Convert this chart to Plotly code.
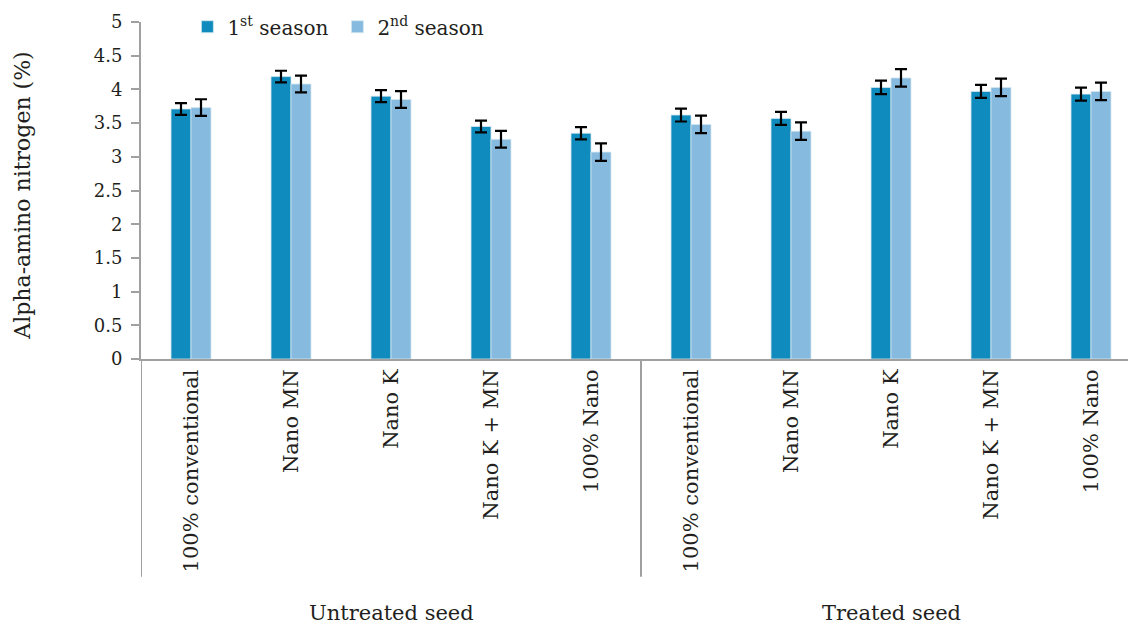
import plotly.graph_objects as go

categories = ["100% conventional", "Nano MN", "Nano K", "Nano K + MN", "100% Nano",
              "100% conventional", "Nano MN", "Nano K", "Nano K + MN", "100% Nano"]
groups = ["Untreated seed", "Treated seed"]
season1 = [3.71, 4.19, 3.90, 3.45, 3.35, 3.62, 3.57, 4.03, 3.97, 3.93]
season2 = [3.73, 4.08, 3.85, 3.26, 3.07, 3.48, 3.38, 4.17, 4.03, 3.97]
err1 = [0.087, 0.087, 0.089, 0.087, 0.09, 0.096, 0.096, 0.10, 0.096, 0.096]
err2 = [0.124, 0.124, 0.124, 0.124, 0.13, 0.13, 0.13, 0.13, 0.13, 0.13]
yticks = [0, 0.5, 1, 1.5, 2, 2.5, 3, 3.5, 4, 4.5, 5]
ytick_text = ["0", "0.5", "1", "1.5", "2", "2.5", "3", "3.5", "4", "4.5", "5"]

FONT = "DejaVu Serif"
TXT = "#231f20"
AX = "#a0a0a0"

x = list(range(len(categories)))

fig = go.Figure()
fig.add_trace(go.Bar(
    x=x, y=season1, name="1<sup>st</sup> season",
    marker=dict(color="#108bbd", line=dict(color="#d6e8f3", width=0.8)),
    error_y=dict(type="data", array=err1, color="black", thickness=2.2, width=6),
))
fig.add_trace(go.Bar(
    x=x, y=season2, name="2<sup>nd</sup> season",
    marker=dict(color="#86badf", line=dict(color="#d6e8f3", width=0.8)),
    error_y=dict(type="data", array=err2, color="black", thickness=2.2, width=6),
))

shapes = []
for xv in [-0.5, 4.5]:
    shapes.append(dict(type="line", xref="x", yref="paper", x0=xv, x1=xv,
                       y0=0, y1=-0.646, line=dict(color=AX, width=2)))

annotations = [
    dict(text=groups[0], x=2, xref="x", y=-0.753, yref="paper", showarrow=False,
         font=dict(family=FONT, size=21, color=TXT), yanchor="middle"),
    dict(text=groups[1], x=7, xref="x", y=-0.753, yref="paper", showarrow=False,
         font=dict(family=FONT, size=21, color=TXT), yanchor="middle"),
    dict(text="Alpha-amino nitrogen (%)", x=-0.1196, xref="paper", y=0.4846, yref="paper",
         showarrow=False, textangle=-90, font=dict(family=FONT, size=22, color=TXT),
         xanchor="center", yanchor="middle"),
]

fig.update_layout(
    width=1128, height=624,
    margin=dict(l=141, r=0, t=22, b=265, pad=0),
    paper_bgcolor="white", plot_bgcolor="white",
    barmode="group", bargap=0.6, bargroupgap=0,
    font=dict(family=FONT, color=TXT),
    showlegend=True,
    legend=dict(orientation="h", x=0.047, xanchor="left", y=0.986, yanchor="middle",
                font=dict(family=FONT, size=20, color=TXT), itemwidth=30,
                entrywidth=105, bgcolor="rgba(0,0,0,0)", traceorder="normal"),
    shapes=shapes,
    annotations=annotations,
    xaxis=dict(range=[-0.5, 9.37], tickmode="array", tickvals=x, ticktext=categories,
               tickangle=-90, showline=True, linecolor=AX, linewidth=2,
               showgrid=False, zeroline=False, ticks="",
               tickfont=dict(family=FONT, size=21, color=TXT)),
    yaxis=dict(range=[0, 5], tickmode="array", tickvals=yticks, ticktext=ytick_text,
               showline=True, linecolor=AX, linewidth=2, ticks="outside", ticklen=8,
               tickcolor=AX, tickwidth=1.5, showgrid=False, zeroline=False,
               ticklabelstandoff=5,
               tickfont=dict(family=FONT, size=18, color=TXT)),
)

fig.write_html("out.html")
